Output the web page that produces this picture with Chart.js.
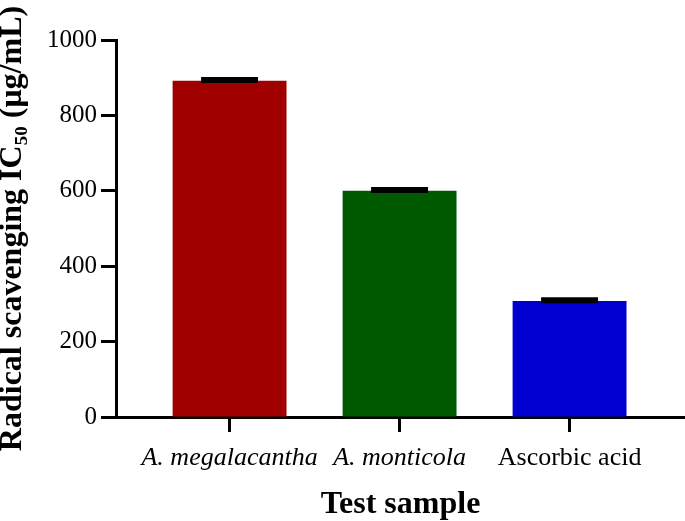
<!DOCTYPE html>
<html>
<head>
<meta charset="utf-8">
<script src="https://cdn.jsdelivr.net/npm/chart.js@4/dist/chart.umd.min.js"></script>
<style>
html,body{margin:0;padding:0;background:#fff;}
#wrap{width:685px;height:521px;}
</style>
</head>
<body>
<div id="wrap"><canvas id="c" width="685" height="521"></canvas></div>
<script>
const categories = ['A. megalacantha', 'A. monticola', 'Ascorbic acid'];
const italicLabels = [true, true, false];
const ic50Values = [892, 600, 308];
const ic50Errors = [2, 2, 2];
const barColors = ['#A00000', '#005A00', '#0000D0'];
const yTicks = [0, 200, 400, 600, 800, 1000];

const SERIF = "'Liberation Serif', 'Times New Roman', serif";

const errorBars = {
  id: 'errorBars',
  afterDatasetsDraw(chart) {
    const ctx = chart.ctx;
    const xs = chart.scales.x, ys = chart.scales.y;
    const meta = chart.getDatasetMeta(0);
    ctx.save();
    ctx.strokeStyle = '#000';
    ic50Values.forEach((v, i) => {
      const x = xs.getPixelForValue(i);
      const yv = ys.getPixelForValue(v);
      const yt = ys.getPixelForValue(v + ic50Errors[i]);
      const w = meta.data[i].width * 0.5;
      ctx.lineWidth = 3;
      ctx.beginPath(); ctx.moveTo(x, yv); ctx.lineTo(x, yt); ctx.stroke();
      ctx.lineWidth = 6;
      ctx.beginPath(); ctx.moveTo(x - w / 2, yt); ctx.lineTo(x + w / 2, yt); ctx.stroke();
    });
    ctx.restore();
  }
};

new Chart(document.getElementById('c'), {
  type: 'bar',
  data: {
    datasets: [{
      data: categories.map((c, i) => ({ x: i, y: ic50Values[i] })),
      backgroundColor: barColors,
      borderWidth: 0,
      categoryPercentage: 1,
      barPercentage: 0.67
    }]
  },
  options: {
    responsive: false,
    animation: false,
    devicePixelRatio: 1,
    layout: { padding: { top: 40, right: 0, left: 0, bottom: 0 } },
    plugins: { legend: { display: false }, tooltip: { enabled: false } },
    scales: {
      x: {
        type: 'linear',
        offset: false,
        min: -0.668,
        max: 2.679,
        afterFit(s) { s.height = 104; },
        afterBuildTicks(s) { s.ticks = categories.map((c, i) => ({ value: i })); },
        border: { display: true, color: '#000', width: 3 },
        grid: { display: true, offset: false, drawOnChartArea: false, tickLength: 15, tickWidth: 3, tickColor: '#000' },
        ticks: {
          autoSkip: false,
          maxRotation: 0,
          padding: 11,
          color: '#000',
          font: (ctx) => ({ family: SERIF, size: 26, style: (ctx.tick && italicLabels[ctx.tick.value]) ? 'italic' : 'normal' }),
          callback: (v) => categories[v] !== undefined ? categories[v] : ''
        },
        title: {
          display: true,
          text: 'Test sample',
          color: '#000',
          font: { family: SERIF, size: 32, weight: 'bold', lineHeight: 1.0 },
          padding: { top: 0, bottom: 0 }
        }
      },
      y: {
        min: 0,
        max: 1000,
        afterFit(s) { s.width = 116; },
        afterBuildTicks(s) { s.ticks = yTicks.map(v => ({ value: v })); },
        border: { display: true, color: '#000', width: 3 },
        grid: { display: true, drawOnChartArea: false, tickLength: 15, tickWidth: 3, tickColor: '#000' },
        ticks: {
          padding: 4,
          color: '#000',
          font: { family: SERIF, size: 25 },
          callback: (v) => String(v)
        },
        title: {
          display: true,
          text: 'Radical scavenging IC₅₀ (μg/mL)',
          color: '#000',
          font: { family: SERIF, size: 32, weight: 'bold', lineHeight: 0.8 },
          padding: { top: 0, bottom: 0 }
        }
      }
    }
  },
  plugins: [errorBars]
});
</script>
</body>
</html>
